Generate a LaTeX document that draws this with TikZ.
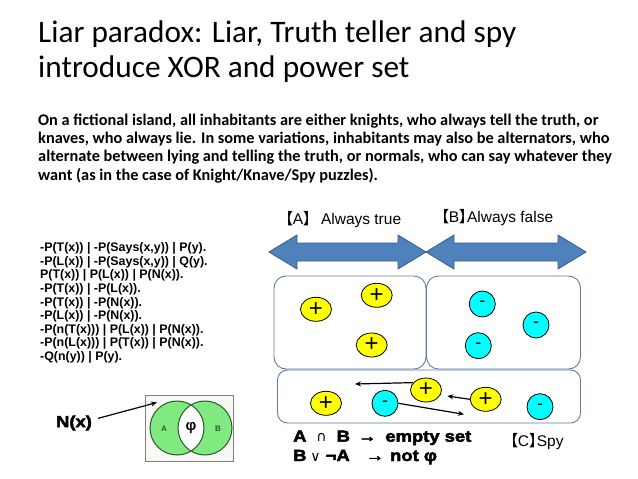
\documentclass[tikz,border=0pt]{standalone}
\usepackage{fontspec}
\setmainfont{Carlito}
\newfontfamily\arialfont{Liberation Sans}
\newfontfamily\heavyfont[BoldFeatures={FakeBold=3,FakeStretch=1.15}]{Liberation Sans}
\newfontfamily\cjkfont[RawFeature=+palt]{Noto Sans CJK SC}
\newfontfamily\symfont{DejaVu Sans}
\usetikzlibrary{arrows.meta,shapes.geometric}
\usepackage{xcolor}
\definecolor{ArrowBlue}{RGB}{79,129,189}
\definecolor{ArrowEdge}{RGB}{56,93,138}
\definecolor{BoxEdge}{RGB}{96,124,160}
\definecolor{VennGreen}{RGB}{128,234,128}
\definecolor{VennEdge}{RGB}{44,88,44}
\definecolor{VennBack}{RGB}{248,248,244}
\definecolor{KnightYellow}{RGB}{255,255,0}
\definecolor{KnaveCyan}{RGB}{0,255,255}

\begin{document}
\begin{tikzpicture}[
x=1pt,y=-1pt,
titleline/.style={anchor=base west,inner sep=0,font=\fontsize{31.3}{35}\selectfont},
bodyline/.style={anchor=base west,inner sep=0,align=left,font=\bfseries\fontsize{16.3}{18.4}\selectfont},
clause/.style={anchor=base west,inner sep=0,align=left,font=\arialfont\bfseries\fontsize{12.4}{13.6}\selectfont},
tag/.style={anchor=base west,inner sep=0,font=\arialfont\fontsize{15.5}{18}\selectfont},
heavy/.style={anchor=base west,inner sep=0,font=\heavyfont\bfseries\fontsize{16}{19.3}\selectfont},
region/.style={draw=BoxEdge,line width=0.9pt,rounded corners=12pt,fill=white,inner sep=0},
bigarrow/.style={draw=ArrowEdge,fill=ArrowBlue,line width=0.8pt},
knight/.style={ellipse,draw,line width=0.8pt,fill=KnightYellow,minimum width=31pt,minimum height=24pt,inner sep=0,font=\arialfont\fontsize{24}{24}\selectfont},
knave/.style={circle,draw,line width=0.8pt,fill=KnaveCyan,minimum size=26pt,inner sep=0,font=\arialfont\fontsize{18}{18}\selectfont},
arrow/.style={-{Stealth[length=6pt,width=5pt]},line width=1.2pt}
]
\useasboundingbox[fill=white] (0,0) rectangle (638,479);

\node[titleline] (t1) at (38,42) {Liar paradox: Liar, Truth teller and spy};
\node[titleline] (t2) at (38,77) {introduce XOR and power set};
% multi-line nodes: base is the last line
\node[bodyline] (intro) at (38,180.2) {On a fictional island, all inhabitants are either knights, who always tell the truth, or\\
knaves, who always lie. In some variations, inhabitants may also be alternators, who\\
alternate between lying and telling the truth, or normals, who can say whatever they\\
want (as in the case of Knight/Knave/Spy puzzles).};

\node[clause] (rules) at (40,360.5) {-P(T(x)) | -P(Says(x,y)) | P(y).\\
-P(L(x)) | -P(Says(x,y)) | Q(y).\\
P(T(x)) | P(L(x)) | P(N(x)).\\
-P(T(x)) | -P(L(x)).\\
-P(T(x)) | -P(N(x)).\\
-P(L(x)) | -P(N(x)).\\
-P(n(T(x))) | P(L(x)) | P(N(x)).\\
-P(n(L(x))) | P(T(x)) | P(N(x)).\\
-Q(n(y)) | P(y).};

% Venn diagram
\node[draw=gray,line width=1pt,fill=VennBack,minimum width=88pt,minimum height=66pt,inner sep=0] (venn) at (189,428) {};
\fill[VennGreen] (177,428) circle (27) (205,428) circle (27);
\begin{scope}
\clip (177,428) circle (27);
\fill[white] (205,428) circle (27);
\end{scope}
\draw[VennEdge,line width=1pt] (177,428) circle (27) (205,428) circle (27);
\node[font=\arialfont\bfseries\fontsize{8}{8}\selectfont,text=VennEdge] (setA) at (164,429) {A};
\node[font=\arialfont\bfseries\fontsize{8}{8}\selectfont,text=VennEdge] (setB) at (218,429) {B};
\node[font=\arialfont\bfseries\fontsize{15}{15}\selectfont] (phi) at (191,428) {φ};
\node[inner sep=0,font=\heavyfont\bfseries\fontsize{16}{16}\selectfont] (nx) at (74,423) {N(x)};
\coordinate (nxtip) at (157,402.5);
\draw[arrow] ([shift={(6,3)}]nx.north east) -- (nxtip);

% always true / always false
\foreach \xa/\xb in {269/426,426/586}
  \draw[bigarrow] (\xa,252) -- (\xa+28,235) -- (\xa+28,243) -- (\xb-28,243) -- (\xb-28,235)
    -- (\xb,252) -- (\xb-28,269) -- (\xb-28,261) -- (\xa+28,261) -- (\xa+28,269) -- cycle;
\node[tag] (truelbl) at (285,224.3) {{\cjkfont 【}A{\cjkfont 】}\hspace{10pt}Always true};
\node[tag] (falselbl) at (441,222.7) {{\cjkfont 【}B{\cjkfont 】}Always false};

\node[region,minimum width=152pt,minimum height=93pt] (truebox) at (350,322.5) {};
\node[region,minimum width=154pt,minimum height=93pt] (falsebox) at (503.5,322.5) {};
\node[region,rounded corners=10pt,minimum width=303pt,minimum height=53pt] (spybox) at (429,396.5) {};

\node[knight] (k1) at (316,309.3) {+};
\node[knight] (k2) at (376.7,295.3) {+};
\node[knight] (k3) at (371.7,345) {+};
\node[knave] (n1) at (482.3,304) {-};
\node[knave] (n2) at (536,325) {-};
\node[knave] (n3) at (478.3,345.7) {-};

\node[knight] (s1) at (326,403.3) {+};
\node[knave] (s2) at (385,403.3) {-};
\node[knight] (s3) at (426,390) {+};
\node[knight] (s4) at (485.7,399.3) {+};
\node[knave] (s5) at (540,406.7) {-};
\coordinate (s3end) at (355,384);
\coordinate (s4end) at (447.3,396);
\coordinate (s2end) at (464,414.3);
\draw[arrow] (s3.150) -- (s3end);
\draw[arrow] (s4.west) -- (s4end);
\draw[arrow] (s2.east) -- (s2end);

\node[heavy] (law1) at (293,441.7) {A\hspace{10pt}{\symfont\mdseries\fontsize{14}{14}\selectfont ∩}\hspace{10pt}B\hspace{8pt}→\hspace{9pt}empty set};
\node[heavy] (law2) at (293,461) {B\hspace{4pt}{\symfont\mdseries\fontsize{14}{14}\selectfont ∨}\hspace{5pt}¬A\hspace{16pt}→\hspace{6pt}not φ};
\node[tag] (spylbl) at (510,446) {{\cjkfont 【}C{\cjkfont 】}Spy};
\end{tikzpicture}
\end{document}
